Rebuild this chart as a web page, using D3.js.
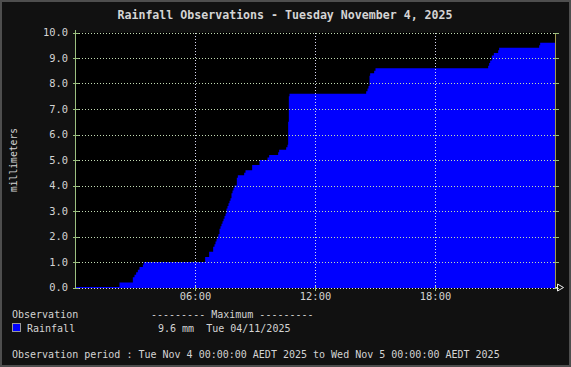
<!DOCTYPE html>
<html>
<head>
<meta charset="utf-8">
<script src="https://cdn.jsdelivr.net/npm/d3@7"></script>
<style>
  html, body { margin: 0; padding: 0; background: #111; }
  svg { display: block; }
  text { font-family: "DejaVu Sans Mono", monospace; fill: #d4d4d4; white-space: pre; }
</style>
</head>
<body>
<div class="chart-area"></div>
<script>
// rainfall accumulation (time "hh:mm", millimetres)
let times = ["00:00","02:12","02:52","02:57","03:02","03:07","03:12","03:22","03:25",
  "06:29","06:41","06:53","06:57","07:00","07:03","07:06","07:09","07:12","07:15","07:18",
  "07:21","07:24","07:27","07:30","07:33","07:36","07:39","07:42","07:45","07:48","07:51",
  "07:54","07:57","08:04","08:07","08:26","08:30","08:50","09:12","09:36","09:41","10:08",
  "10:11","10:32","10:36","10:38","10:40","10:42","14:32","14:36","14:39","14:42","14:44",
  "14:56","15:00","20:38","20:41","20:44","20:49","20:55","21:08","21:11","23:11","23:14","24:00"];
let rain = [0.0,0.2,0.4,0.5,0.6,0.7,0.8,0.9,1.0,
  1.2,1.4,1.6,1.7,1.8,1.9,2.0,2.1,2.3,2.4,2.5,
  2.6,2.7,2.8,2.9,3.1,3.2,3.3,3.4,3.5,3.7,3.8,
  3.9,4.0,4.3,4.4,4.5,4.6,4.8,5.0,5.1,5.2,5.3,
  5.4,5.5,5.6,6.5,7.5,7.6,7.7,7.8,7.9,8.3,8.4,
  8.5,8.6,8.7,8.8,8.9,9.1,9.2,9.3,9.4,9.5,9.6,9.6];
let yTicks = [0,1,2,3,4,5,6,7,8,9,10];
let xTicks = [6, 12, 18];

let title = "Rainfall Observations - Tuesday November 4, 2025";
let yLabel = "millimeters";
let legendHead = ["Observation", "--------- Maximum ---------"];
let legendRow = ["Rainfall", "9.6 mm  Tue 04/11/2025"];
let period = "Observation period : Tue Nov 4 00:00:00 AEDT 2025 to Wed Nov 5 00:00:00 AEDT 2025";

let data = times.map((t, i) => {
  let p = t.split(":");
  return {h: +p[0] + p[1] / 60, v: rain[i]};
});

let outerWidth = 571, outerHeight = 367;
let svg = d3.select('.chart-area').append('svg')
  .attr('width', outerWidth)
  .attr('height', outerHeight);

// frame
svg.append("rect")
  .attr("x", 1).attr("y", 1)
  .attr("width", outerWidth - 2).attr("height", outerHeight - 2)
  .attr("fill", "#111").attr("stroke", "#4e4e4e").attr("stroke-width", 2);

let xScale = d3.scaleLinear().domain([0, 24]).range([75.5, 555.5]);
let yScale = d3.scaleLinear().domain([0, 10]).range([287.5, 32.5]);

// plot background
svg.append("rect")
  .attr("x", xScale(0)).attr("y", yScale(10))
  .attr("width", xScale(24) - xScale(0)).attr("height", yScale(0) - yScale(10))
  .attr("fill", "#000");

let area = d3.area()
  .curve(d3.curveStepAfter)
  .x(d => xScale(d.h))
  .y0(yScale(0))
  .y1(d => yScale(d.v));

svg.append("path")
  .datum(data)
  .attr("fill", "#0000ff")
  .attr("d", area);

// blue base line where the total is still zero
svg.append("line")
  .attr("x1", xScale(0)).attr("x2", xScale(24))
  .attr("y1", yScale(0)).attr("y2", yScale(0))
  .attr("stroke", "#0000ff");

// grid
let grid = svg.append("g").attr("shape-rendering", "crispEdges");
grid.selectAll("line.hg")
  .data(yTicks)
  .enter().append("line")
  .attr("class", "hg")
  .attr("x1", xScale(0)).attr("x2", xScale(24))
  .attr("y1", d => Math.round(yScale(d)) + 0.5).attr("y2", d => Math.round(yScale(d)) + 0.5)
  .attr("stroke", d => d == 0 ? "#e0e0e0" : "#c4dcb4")
  .attr("stroke-dasharray", "1,2");

grid.selectAll("line.vg")
  .data(xTicks)
  .enter().append("line")
  .attr("class", "vg")
  .attr("x1", d => xScale(d)).attr("x2", d => xScale(d))
  .attr("y1", yScale(10)).attr("y2", yScale(0))
  .attr("stroke", "#d8d8f0")
  .attr("stroke-dasharray", "1,2");

// axes lines and ticks
grid.append("line")
  .attr("x1", xScale(0)).attr("x2", xScale(0))
  .attr("y1", yScale(10) - 3).attr("y2", yScale(0) + 1)
  .attr("stroke", "#9cc080");
grid.append("line")
  .attr("x1", xScale(24)).attr("x2", xScale(24))
  .attr("y1", yScale(10)).attr("y2", yScale(0))
  .attr("stroke", "#a09a50");
grid.selectAll("line.yt")
  .data(yTicks)
  .enter().append("line")
  .attr("class", "yt")
  .attr("x1", xScale(0) - 3).attr("x2", xScale(0) + 3)
  .attr("y1", d => Math.round(yScale(d)) + 0.5).attr("y2", d => Math.round(yScale(d)) + 0.5)
  .attr("stroke", "#9cc080");
grid.selectAll("line.yt2")
  .data(yTicks)
  .enter().append("line")
  .attr("class", "yt2")
  .attr("x1", xScale(24) - 2).attr("x2", xScale(24) + 3)
  .attr("y1", d => Math.round(yScale(d)) + 0.5).attr("y2", d => Math.round(yScale(d)) + 0.5)
  .attr("stroke", "#9cc080");
grid.selectAll("line.xt")
  .data(xTicks)
  .enter().append("line")
  .attr("class", "xt")
  .attr("x1", d => xScale(d)).attr("x2", d => xScale(d))
  .attr("y1", yScale(0) - 2).attr("y2", yScale(0) + 3)
  .attr("stroke", "#9cc080");

// arrow at end of time axis
let ax = xScale(24), ay = yScale(0);
svg.append("path")
  .attr("d", `M${ax},${ay}H${ax + 2}M${ax + 2},${ay - 3.5}L${ax + 8},${ay}L${ax + 2},${ay + 3.5}Z`)
  .attr("fill", "none").attr("stroke", "#eee").attr("stroke-width", 1);

// tick labels
svg.selectAll("text.ylab")
  .data(yTicks)
  .enter().append("text")
  .attr("class", "ylab")
  .attr("x", 68).attr("y", d => yScale(d) + 3.5)
  .attr("text-anchor", "end")
  .attr("font-size", "10.4px")
  .text(d3.format(".1f"));

svg.selectAll("text.xlab")
  .data(xTicks)
  .enter().append("text")
  .attr("class", "xlab")
  .attr("x", d => xScale(d)).attr("y", 299.5)
  .attr("text-anchor", "middle")
  .attr("font-size", "10.4px")
  .text(d => d3.format("02d")(d) + ":00");

svg.append("text")
  .attr("x", 285).attr("y", 19)
  .attr("text-anchor", "middle")
  .attr("font-size", "11.6px")
  .attr("font-weight", "bold")
  .text(title);

svg.append("text")
  .attr("transform", "translate(17,160) rotate(-90)")
  .attr("text-anchor", "middle")
  .attr("font-size", "9.7px")
  .text(yLabel);

// legend
svg.append("text").attr("x", 12).attr("y", 318).attr("font-size", "10px").text(legendHead[0]);
svg.append("text").attr("x", 151).attr("y", 318).attr("font-size", "10px").text(legendHead[1]);
svg.append("rect")
  .attr("x", 12.5).attr("y", 323.5).attr("width", 8).attr("height", 8)
  .attr("fill", "#0000ff").attr("stroke", "#999");
svg.append("text").attr("x", 27).attr("y", 331.5).attr("font-size", "10px").text(legendRow[0]);
svg.append("text").attr("x", 158).attr("y", 331.5).attr("font-size", "10px").text(legendRow[1]);

svg.append("text").attr("x", 12).attr("y", 357.5).attr("font-size", "10px").text(period);
</script>
</body>
</html>
